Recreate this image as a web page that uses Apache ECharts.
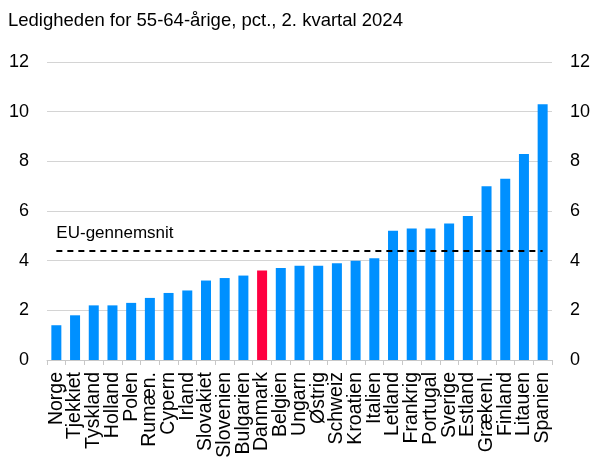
<!DOCTYPE html>
<html>
<head>
<meta charset="utf-8">
<script src="https://cdn.jsdelivr.net/npm/echarts@6/dist/echarts.min.js"></script>
<style>
  html, body { margin: 0; padding: 0; background: #fff; }
  #chart { width: 595px; height: 457px; }
</style>
</head>
<body>
<div id="chart"></div>
<script>
// lande sorteret efter ledighed
const countries = ['Norge', 'Tjekkiet', 'Tyskland', 'Holland', 'Polen', 'Rumæn.', 'Cypern', 'Irland',
  'Slovakiet', 'Slovenien', 'Bulgarien', 'Danmark', 'Belgien', 'Ungarn', 'Østrig', 'Schweiz',
  'Kroatien', 'Italien', 'Letland', 'Frankrig', 'Portugal', 'Sverige', 'Estland', 'Grækenl.',
  'Finland', 'Litauen', 'Spanien'];
const unemployment = [1.4, 1.8, 2.2, 2.2, 2.3, 2.5, 2.7, 2.8, 3.2, 3.3, 3.4, 3.6, 3.7, 3.8, 3.8, 3.9,
  4.0, 4.1, 5.2, 5.3, 5.3, 5.5, 5.8, 7.0, 7.3, 8.3, 10.3];
const euAverage = 4.4;
const highlight = 'Danmark';

const chart = echarts.init(document.getElementById('chart'));
const font = 'Liberation Sans, Arial, sans-serif';

const yAxisBase = {
  type: 'value',
  min: 0,
  max: 12,
  interval: 2,
  axisLine: { show: false },
  axisTick: { show: false },
  axisLabel: { color: '#000', fontSize: 18, fontFamily: font, margin: 18 }
};

const option = {
  animation: false,
  title: {
    text: 'Ledigheden for 55-64-årige, pct., 2. kvartal 2024',
    left: 3,
    top: 6,
    textStyle: { color: '#000', fontSize: 18.5, fontWeight: 'normal', fontFamily: font }
  },
  grid: { left: 47, right: 43, top: 62, bottom: 97, outerBoundsMode: 'none', containLabel: false },
  xAxis: {
    type: 'category',
    data: countries,
    axisLine: { lineStyle: { color: '#c8c8c8' } },
    axisTick: { show: true, length: 5, lineStyle: { color: '#c8c8c8' } },
    axisLabel: {
      interval: 0,
      rotate: 90,
      color: '#000',
      fontSize: 19.5,
      fontFamily: font,
      margin: 12
    }
  },
  yAxis: [
    Object.assign({}, yAxisBase, {
      position: 'left',
      splitLine: { lineStyle: { color: '#d4d4d4', width: 1 } }
    }),
    Object.assign({}, yAxisBase, {
      position: 'right',
      splitLine: { show: false }
    })
  ],
  series: [
    {
      type: 'bar',
      barWidth: 10,
      data: unemployment.map((v, i) => ({
        value: v,
        itemStyle: { color: countries[i] === highlight ? '#FF0040' : '#0090FF' }
      })),
      markLine: {
        symbol: 'none',
        silent: true,
        lineStyle: { color: '#000', type: [6, 5], width: 2 },
        label: {
          show: true,
          position: 'insideStartTop',
          formatter: 'EU-gennemsnit',
          color: '#000',
          fontSize: 17,
          fontFamily: font,
          distance: [0, 9]
        },
        data: [[
          { coord: [0, euAverage] },
          { coord: [countries.length - 1, euAverage] }
        ]]
      }
    }
  ]
};

chart.setOption(option);
</script>
</body>
</html>
